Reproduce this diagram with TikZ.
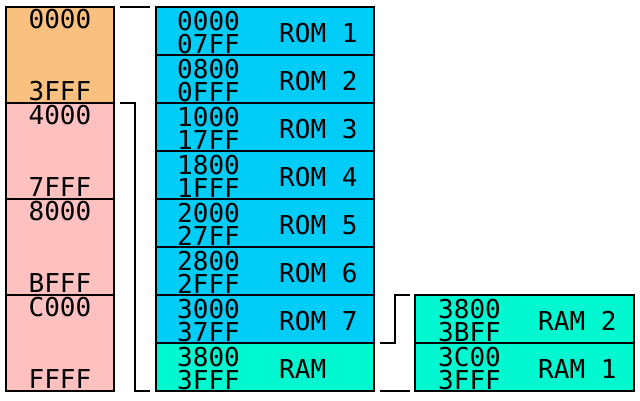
\documentclass[tikz,border=0pt]{standalone}
\usepackage{fontspec}
\newfontfamily\pix{DejaVu Sans Mono}
\definecolor{romorange}{RGB}{250,192,128}
\definecolor{rampink}{RGB}{255,192,192}
\definecolor{romcyan}{RGB}{0,204,248}
\definecolor{rammint}{RGB}{0,248,208}
\begin{document}
\begin{tikzpicture}[x=1pt,y=-1pt,
  blk/.style={draw=black,line width=2pt,inner sep=0pt,outer sep=0pt},
  bigblk/.style={blk,minimum width=108pt,minimum height=96pt},
  midblk/.style={blk,fill=romcyan,minimum width=218pt,minimum height=48pt},
  rblk/.style={blk,fill=rammint,minimum width=219pt,minimum height=48pt},
  txt/.style={font=\pix\fontsize{26}{23}\selectfont,inner sep=0pt,anchor=base west},
  addr/.style={txt,align=left},
  ctxt/.style={txt,anchor=base},
  br/.style={line width=2pt}]
\useasboundingbox (0,0) rectangle (640,400);
% left column
\node[bigblk,fill=romorange] (a0) at (60,55) {};
\node[bigblk,fill=rampink] (a1) at (60,151) {};
\node[bigblk,fill=rampink] (a2) at (60,247) {};
\node[bigblk,fill=rampink] (a3) at (60,343) {};
\foreach \i/\s/\e in {0/0000/3FFF,1/4000/7FFF,2/8000/BFFF,3/C000/FFFF}{
  \node[ctxt] (as\i) at (60,{28+96*\i}) {\s};
  \node[ctxt] (ae\i) at (60,{100+96*\i}) {\e};
}
% middle column
\foreach \i/\s/\e/\l in {0/0000/07FF/ROM 1,1/0800/0FFF/ROM 2,2/1000/17FF/ROM 3,3/1800/1FFF/ROM 4,4/2000/27FF/ROM 5,5/2800/2FFF/ROM 6,6/3000/37FF/ROM 7}{
  \node[midblk] (m\i) at (265,{31+48*\i}) {};
  \node[addr] (ma\i) at (177,{53+48*\i}) {\s\\\e};
  \node[txt] (ml\i) at (279,{42+48*\i}) {\l};
}
\node[midblk,fill=rammint] (m7) at (265,367) {};
\node[addr] (ma7) at (177,389) {3800\\3FFF};
\node[txt] (ml7) at (279,378) {RAM};
% right column
\node[rblk] (r0) at (524.5,319) {};
\node[rblk] (r1) at (524.5,367) {};
\node[addr] (ra0) at (438,341) {3800\\3BFF};
\node[txt] (rl0) at (538,330) {RAM 2};
\node[addr] (ra1) at (438,389) {3C00\\3FFF};
\node[txt] (rl1) at (538,378) {RAM 1};
% brackets
\draw[br] ([xshift=6pt]a0.north east) -- ([xshift=-6pt]m0.north west);
\draw[br] ([xshift=6pt]a1.north east) -- ++(15,0) |- ([xshift=-6pt]m7.south west);
\draw[br] ([xshift=6pt]m6.south east) -- ++(15,0) |- ([xshift=-5pt]r0.north west);
\draw[br] ([xshift=6pt]m7.south east) -- ([xshift=-5pt]r1.south west);
\end{tikzpicture}
\end{document}
